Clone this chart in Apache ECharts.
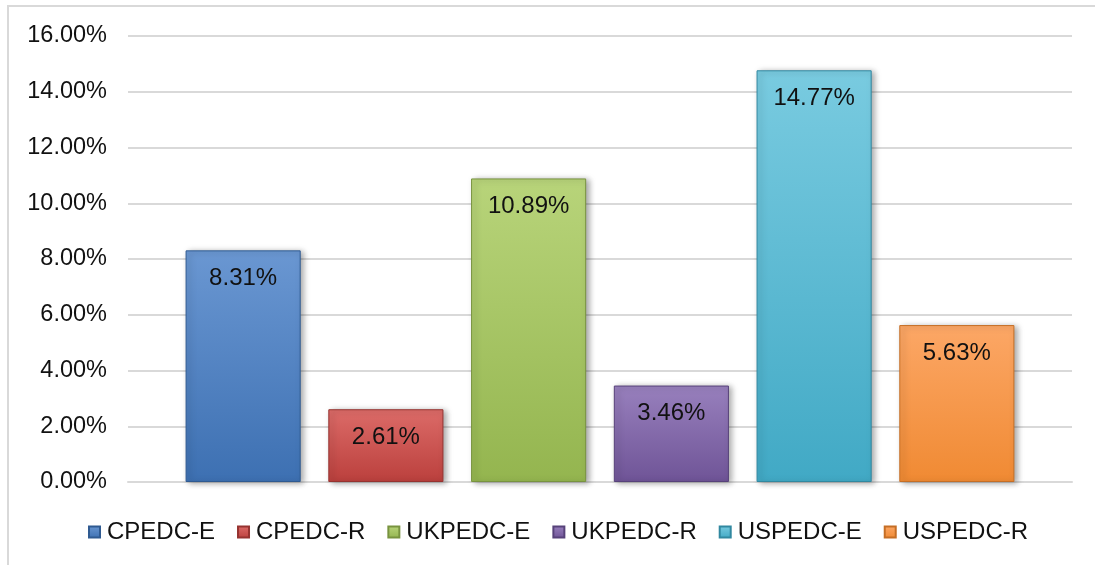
<!DOCTYPE html>
<html>
<head>
<meta charset="utf-8">
<script src="https://cdn.jsdelivr.net/npm/echarts@6/dist/echarts.min.js"></script>
<style>
  body { margin: 0; background: #fff; }
  #chart { width: 1095px; height: 565px; }
</style>
</head>
<body>
<div id="chart"></div>
<script>
// series names and values (percent)
const seriesNames = ['CPEDC-E', 'CPEDC-R', 'UKPEDC-E', 'UKPEDC-R', 'USPEDC-E', 'USPEDC-R'];
const seriesValues = [8.31, 2.61, 10.89, 3.46, 14.77, 5.63];
// top / bottom gradient colours for each bar
const topColors = ['#6a97d2', '#dc6b68', '#b8d47a', '#9880bd', '#79cbe0', '#fca766'];
const bottomColors = ['#3d70b2', '#bb403d', '#94b54f', '#6f5497', '#41a9c5', '#f08a33'];
const borderColors = ['#2f5a91', '#963330', '#78933f', '#57427a', '#3188a0', '#c56e25'];

const font = 'Liberation Sans, Arial, sans-serif';

const chart = echarts.init(document.getElementById('chart'));

const series = seriesNames.map((name, i) => ({
    name: name,
    type: 'bar',
    data: [seriesValues[i]],
    barGap: '24%',
    barCategoryGap: '12.2%',
    itemStyle: {
        color: new echarts.graphic.LinearGradient(0, 0, 0, 1, [
            { offset: 0, color: topColors[i] },
            { offset: 1, color: bottomColors[i] }
        ]),
        borderColor: borderColors[i],
        borderWidth: 1,
        shadowColor: 'rgba(0,0,0,0.35)',
        shadowBlur: 6,
        shadowOffsetX: 3,
        shadowOffsetY: 1
    },
    label: {
        show: true,
        position: 'insideTop',
        distance: 16,
        formatter: p => p.value.toFixed(2) + '%',
        color: '#111',
        fontSize: 24,
        fontFamily: font
    }
}));

chart.setOption({
    animation: false,
    graphic: [{
        type: 'rect',
        shape: { x: 8, y: 6, width: 1100, height: 600 },
        style: { fill: 'none', stroke: '#d9d9d9', lineWidth: 2 },
        silent: true
    }],
    grid: {
        left: 128,
        right: 23,
        top: 36,
        bottom: 83
    },
    legend: {
        bottom: 16,
        left: 83,
        icon: 'rect',
        itemWidth: 11,
        itemHeight: 11,
        itemGap: 22,
        textStyle: {
            fontSize: 24,
            color: '#111',
            fontFamily: font,
            padding: [0, 0, 0, 2]
        },
        data: seriesNames
    },
    xAxis: {
        type: 'category',
        data: [''],
        axisTick: { show: false },
        axisLabel: { show: false },
        axisLine: { lineStyle: { color: '#d9d9d9', width: 2 } }
    },
    yAxis: {
        type: 'value',
        min: 0,
        max: 16,
        interval: 2,
        axisLine: { show: false },
        axisTick: { show: false },
        axisLabel: {
            formatter: v => v.toFixed(2) + '%',
            margin: 21,
            fontSize: 23.5,
            color: '#111',
            fontFamily: font
        },
        splitLine: { lineStyle: { color: '#d9d9d9', width: 2 } }
    },
    series: series
});
</script>
</body>
</html>
